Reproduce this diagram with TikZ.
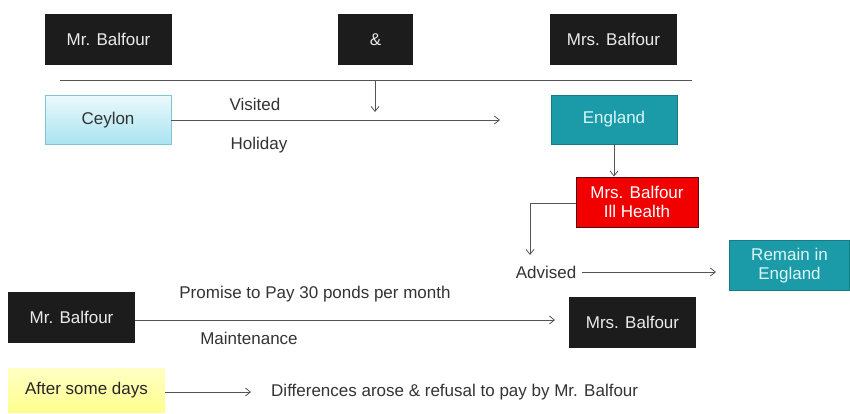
\documentclass[tikz,border=0pt]{standalone}
\usepackage{fontspec}
\setmainfont{Liberation Sans}
\usetikzlibrary{arrows.meta}
\definecolor{boxblack}{HTML}{1C1C1C}
\definecolor{teal1}{HTML}{1A9BA7}
\definecolor{tealtext}{HTML}{DDF6FA}
\definecolor{cyantop}{HTML}{EAF9FC}
\definecolor{cyanbot}{HTML}{A9E3F0}
\definecolor{cyanedge}{HTML}{7EC6D6}
\definecolor{yeltop}{HTML}{FFFFC4}
\definecolor{yelbot}{HTML}{FFFF8E}
\definecolor{redfill}{HTML}{F20000}
\definecolor{rededge}{HTML}{5A0A0A}
\definecolor{labgray}{HTML}{333333}
\definecolor{linegray}{HTML}{555555}
\tikzset{
  base/.style={font=\fontsize{17}{19.5}\selectfont, inner sep=0pt, align=center},
  blackbox/.style={base, fill=boxblack, text=white!92!black, minimum width=127pt, minimum height=51pt},
  tealbox/.style={base, fill=teal1, draw=teal1!80!black, line width=0.6pt, text=tealtext},
  redbox/.style={base, fill=redfill, draw=rededge, line width=1pt, text=white, minimum width=122pt, minimum height=50pt},
  cyanbox/.style={base, top color=cyantop, bottom color=cyanbot, draw=cyanedge, line width=0.8pt, text=labgray, minimum width=126pt, minimum height=49pt},
  yelbox/.style={base, top color=yeltop, bottom color=yelbot, text=black!85, minimum width=157pt, minimum height=44pt},
  lab/.style={base, text=labgray},
  conn/.style={draw=linegray, line width=0.8pt},
  arr/.style={conn, -{Straight Barb[length=5pt,width=8pt]}}
}
\begin{document}
\begin{tikzpicture}[x=1pt,y=-1pt]
\useasboundingbox (0,0) rectangle (850,414);
% top row
\node[blackbox] (mrtop) at (108.5,39.5) {Mr. Balfour};
\node[blackbox, minimum width=75pt] (amp) at (375.5,39.5) {\&};
\node[blackbox] (mrstop) at (613.5,39.5) {Mrs. Balfour};
\coordinate (hl) at (60,80);
\coordinate (hr) at (692,80);
\coordinate (hm) at (375,80);
\coordinate (hd) at (375,112);
\draw[conn] (hl) -- (hr);
\draw[arr] (hm) -- (hd);
% Ceylon -> England
\node[cyanbox] (ceylon) at (108,120) {Ceylon};
\node[tealbox, minimum width=126pt, minimum height=49pt] (england) at (614,119.5) {England};
\coordinate (visend) at (500,120);
\draw[arr] (ceylon.east) -- (visend);
\node[lab] (visited) at (255,104) {Visited};
\node[lab] (holiday) at (259,145) {Holiday};
% ill health
\node[redbox] (ill) at (637,202) {Mrs. Balfour\\Ill Health};
\draw[arr] (england.south) -- (england.south |- ill.north);
\coordinate (bend) at (530,203);
\coordinate (advtop) at (530,255);
\draw[arr] (ill.west |- bend) -- (bend) -- (advtop);
\node[lab] (advised) at (546,272) {Advised};
\node[tealbox, minimum width=120pt, minimum height=50pt] (remain) at (789.5,265.5) {Remain in\\England};
\coordinate (advout) at (582,272);
\coordinate (remend) at (716,272);
\draw[arr] (advout) -- (remend);
% maintenance
\node[blackbox] (mrbot) at (71.5,317) {Mr. Balfour};
\node[blackbox] (mrsbot) at (632.5,322) {Mrs. Balfour};
\coordinate (mstart) at (135,320);
\coordinate (mend) at (555,320);
\draw[arr] (mstart) -- (mend);
\node[lab] (promise) at (315,294) {Promise to Pay 30 ponds per month};
\node[lab] (maint) at (249,338) {Maintenance};
% after some days
\node[yelbox] (after) at (86.5,390) {After some days};
\coordinate (aend) at (251,392);
\draw[arr] (after.east |- aend) -- (aend);
\node[lab, anchor=west] (diff) at (271,392) {Differences arose \& refusal to pay by Mr. Balfour};
\end{tikzpicture}
\end{document}
